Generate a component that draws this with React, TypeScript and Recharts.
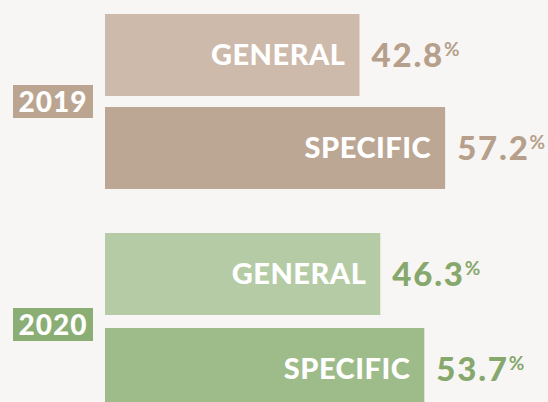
import React from 'react';
import { BarChart, Bar, XAxis, YAxis, Cell, LabelList } from 'recharts';

const categories = ['GENERAL', 'SPECIFIC'];
const years = ['2019', '2020'];
const values2019 = [42.8, 57.2];
const values2020 = [46.3, 53.7];

const FONT = 'Lato, "Open Sans", sans-serif';

const palettes = [
  { bars: ['#cdbaab', '#bca794'], badge: '#bba591', text: '#b69f8b' },
  { bars: ['#b5cba5', '#9ebb8a'], badge: '#8bae74', text: '#86a86d' },
];

const ValueLabel = (props: any) => {
  const { x, y, width, height, value, textColor } = props;
  return (
    <text
      x={x + width + 12}
      y={y + height / 2}
      dy="0.36em"
      fill={textColor}
      fontFamily={FONT}
      fontWeight={900}
      fontSize={33}
      letterSpacing={1.8}
    >
      <tspan>{Number(value).toFixed(1)}</tspan>
      <tspan fontSize={19} dy={-11} fontWeight={700} letterSpacing={0}>%</tspan>
    </text>
  );
};

const NameLabel = (props: any) => {
  const { x, y, width, height, value } = props;
  return (
    <text
      x={x + width - 14}
      y={y + height / 2}
      dy="0.36em"
      textAnchor="end"
      fill="#ffffff"
      fontFamily={FONT}
      fontWeight={900}
      fontSize={29}
      letterSpacing={0.5}
    >
      {value}
    </text>
  );
};

const YearChart = ({ values, idx, marginTop, height }: { values: number[]; idx: number; marginTop: number; height: number }) => {
  const data = categories.map((c, i) => ({ name: c, value: values[i] }));
  const pal = palettes[idx];
  return (
    <BarChart
      width={548}
      height={height}
      data={data}
      layout="vertical"
      margin={{ top: marginTop, right: 0, bottom: height - marginTop - (idx === 0 ? 186 : 190), left: 105 }}
    >
      <XAxis type="number" domain={[0, 74.5]} hide />
      <YAxis type="category" dataKey="name" hide />
      <Bar dataKey="value" barSize={82} isAnimationActive={false}>
        {data.map((d, i) => (
          <Cell key={d.name} fill={pal.bars[i]} />
        ))}
        <LabelList dataKey="name" content={<NameLabel />} />
        <LabelList dataKey="value" content={<ValueLabel textColor={pal.text} />} />
      </Bar>
    </BarChart>
  );
};

const Badge = ({ label, color, top }: { label: string; color: string; top: number }) => (
  <div
    style={{
      position: 'absolute',
      left: 13,
      top,
      width: 80,
      height: 33,
      background: color,
      color: '#fff',
      fontFamily: FONT,
      fontWeight: 900,
      fontSize: 28,
      letterSpacing: 1,
      lineHeight: '33px',
      textAlign: 'center',
    }}
  >
    {label}
  </div>
);

export default function App() {
  return (
    <div
      style={{
        position: 'absolute',
        top: 0,
        left: 0,
        width: 548,
        height: 402,
        overflow: 'hidden',
        background: '#f8f6f4',
      }}
    >
      <div style={{ position: 'absolute', top: 0, left: 0 }}>
        <YearChart values={values2019} idx={0} marginTop={8} height={200} />
      </div>
      <div style={{ position: 'absolute', top: 200, left: 0 }}>
        <YearChart values={values2020} idx={1} marginTop={26} height={216} />
      </div>
      <Badge label={years[0]} color={palettes[0].badge} top={85} />
      <Badge label={years[1]} color={palettes[1].badge} top={308} />
    </div>
  );
}
